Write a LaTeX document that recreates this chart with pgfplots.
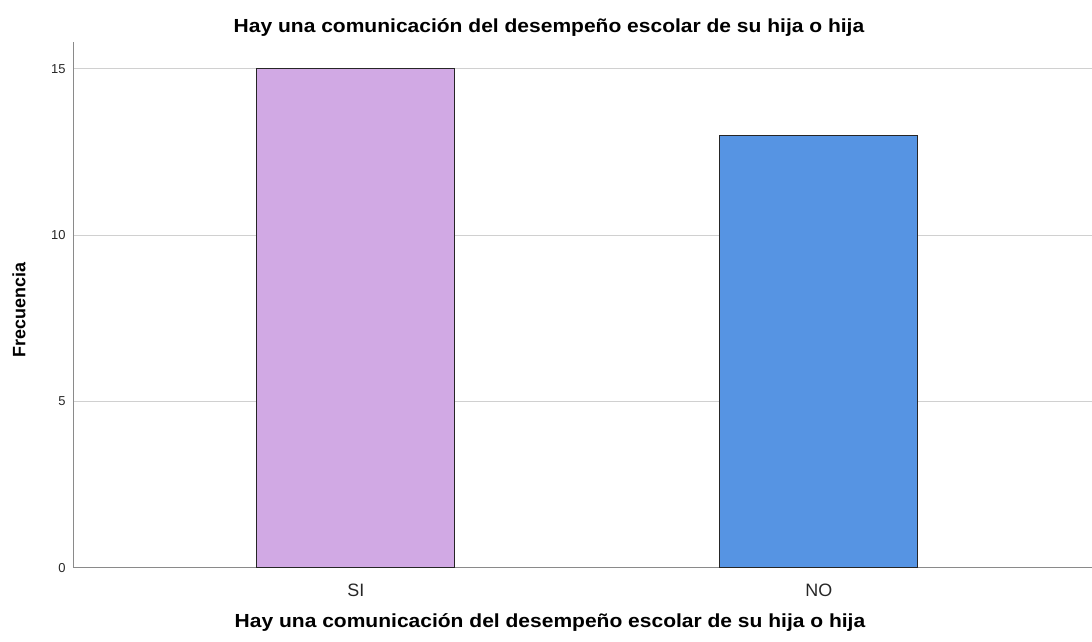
\documentclass[border=0pt]{standalone}
\usepackage{graphicx}
\usepackage{pgfplots}
\pgfplotsset{compat=1.18}
\usepackage{fontspec}
\setmainfont{Liberation Sans}
\definecolor{barSI}{HTML}{D1A9E4}
\definecolor{barNO}{HTML}{5694E3}
\definecolor{gridc}{HTML}{D0D0D0}
\definecolor{axc}{HTML}{8A8A8A}
\begin{document}
\begin{tikzpicture}[x=1bp,y=1bp]
\useasboundingbox (0,0) rectangle (1092,642);
\begin{axis}[
  at={(73bp,74bp)}, anchor=south west,
  scale only axis, width=1019bp, height=526bp,
  xmin=-0.611, xmax=1.59, ymin=0, ymax=15.8,
  axis x line*=bottom, axis y line*=left,
  axis line style={axc, line width=1pt},
  xtick={0,1}, xticklabels={SI,NO},
  ytick={0,5,10,15},
  ymajorgrids, grid style={gridc, line width=1pt},
  major tick length=0pt,
  tick style={draw=none},
  yticklabel style={font=\fontsize{13}{15}\selectfont, xshift=-4bp, text=black!85},
  xticklabel style={font=\fontsize{18}{20}\selectfont, yshift=-12bp, text=black!85},
  /pgf/number format/assume math mode=true,
  ybar, bar width=198bp, bar shift=0pt,
]
\addplot[fill=barSI, draw=black!85, line width=1pt] coordinates {(0,15)};
\addplot[fill=barNO, draw=black!85, line width=1pt] coordinates {(1,13)};
\end{axis}
\node[font=\bfseries\fontsize{19}{22}\selectfont] at (549,614) {\scalebox{1.11}[1]{Hay una comunicación del desempeño escolar de su hija o hija}};
\node[font=\bfseries\fontsize{19}{22}\selectfont] at (550,19) {\scalebox{1.11}[1]{Hay una comunicación del desempeño escolar de su hija o hija}};
\node[font=\bfseries\fontsize{18}{20}\selectfont, rotate=90] at (19,332) {Frecuencia};
\end{tikzpicture}
\end{document}
